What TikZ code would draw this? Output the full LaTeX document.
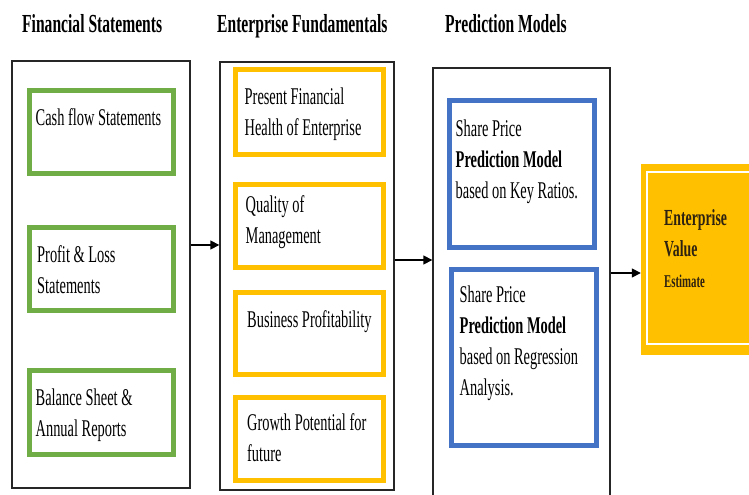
\documentclass[tikz,border=0pt]{standalone}
\usepackage{fontspec}
\setmainfont{Liberation Serif}[FakeStretch=0.6]
\usetikzlibrary{arrows.meta}
\definecolor{boxgreen}{HTML}{70AD47}
\definecolor{boxyellow}{HTML}{FFC000}
\definecolor{boxblue}{HTML}{4472C4}
\definecolor{evtext}{HTML}{2E2210}

\begin{document}
\begin{tikzpicture}[x=1bp, y=-1bp, every node/.style={inner sep=0pt},
	colbox/.style={draw=black!85, line width=1.4bp},
	greenbox/.style={draw=boxgreen, line width=5bp, minimum width=144bp, minimum height=83bp},
	yellowbox/.style={draw=boxyellow, line width=5bp, minimum width=148bp, minimum height=83bp},
	bluebox/.style={draw=boxblue, line width=5bp, minimum width=145bp},
	title/.style={anchor=base west, font=\fontsize{26bp}{31bp}\selectfont\bfseries},
	txt/.style={anchor=north west, align=left, font=\fontsize{24bp}{31bp}\selectfont},
	evtxt/.style={anchor=north west, align=left, text=evtext, font=\fontsize{23bp}{31bp}\selectfont\bfseries},
	arr/.style={-{Triangle[length=9bp,width=9bp]}, line width=1.6bp}]
			\useasboundingbox (0,0) rectangle (749,495);
			
			\node[title] (t1) at (22,33) {Financial Statements};
			\node[title] (t2) at (217,33) {Enterprise Fundamentals};
			\node[title] (t3) at (445,33) {Prediction Models};
			
			\node[colbox, minimum width=178bp, minimum height=427bp] (fs) at (101,274.5) {};
			\node[colbox, minimum width=174bp, minimum height=428bp] (ef) at (307,276) {};
			\node[colbox, minimum width=177bp, minimum height=442bp] (pm) at (521.5,289) {};
			
			\node[greenbox] (cash) at (101.5,132) {};
			\node[greenbox] (pl) at (101.5,269) {};
			\node[greenbox, minimum height=84bp] (bs) at (101.5,412.5) {};
			\node[txt] (cash-t) at ([shift={(8.5bp,-16bp)}]cash.north west) {\strut Cash flow Statements};
			\node[txt] (pl-t) at ([shift={(10bp,-16bp)}]pl.north west) {\strut Profit \& Loss\\Statements};
			\node[txt] (bs-t) at ([shift={(8.5bp,-16bp)}]bs.north west) {\strut Balance Sheet \&\\Annual Reports};
			
			\node[yellowbox, minimum height=85bp] (health) at (309.5,112) {};
			\node[yellowbox] (mgmt) at (309.5,226) {};
			\node[yellowbox, minimum height=82bp] (profit) at (309.5,333.5) {};
			\node[yellowbox] (growth) at (309.5,439) {};
			\node[txt] (health-t) at ([shift={(11.5bp,-16bp)}]health.north west) {\strut Present Financial\\Health of Enterprise};
			\node[txt] (mgmt-t) at ([shift={(12.5bp,-9bp)}]mgmt.north west) {\strut Quality of\\Management};
			\node[txt] (profit-t) at ([shift={(14bp,-16bp)}]profit.north west) {\strut Business Profitability};
			\node[txt] (growth-t) at ([shift={(14bp,-14bp)}]growth.north west) {\strut Growth Potential for\\future};
			
			\node[bluebox, minimum height=147bp] (ratios) at (522,174) {};
			\node[bluebox, minimum height=176bp] (regr) at (524,357.5) {};
			\node[txt] (ratios-t) at ([shift={(8.5bp,-17bp)}]ratios.north west) {\strut Share Price\\\textbf{Prediction Model}\\based on Key Ratios.};
			\node[txt] (regr-t) at ([shift={(10.5bp,-14bp)}]regr.north west) {\strut Share Price\\\textbf{Prediction Model}\\based on Regression\\Analysis.};
			
			\node[fill=boxyellow, minimum width=119bp, minimum height=191bp] (ev) at (700.5,259.5) {};
			\node[draw=white, line width=2bp, minimum width=108bp, minimum height=172bp] (evf) at (701,258) {};
			\node[evtxt] (ev-t) at ([shift={(18bp,-32.3bp)}]evf.north west) {\strut Enterprise\\Value\\{\fontsize{18bp}{30bp}\selectfont Estimate}};
			
			\draw[arr] (fs.east |- 0,245) -- (ef.west |- 0,245);
			\draw[arr] (ef.east |- 0,260) -- (pm.west |- 0,260);
			\draw[arr] (pm.east |- 0,273) -- (ev.west |- 0,273);
			\end{tikzpicture}
\end{document}
